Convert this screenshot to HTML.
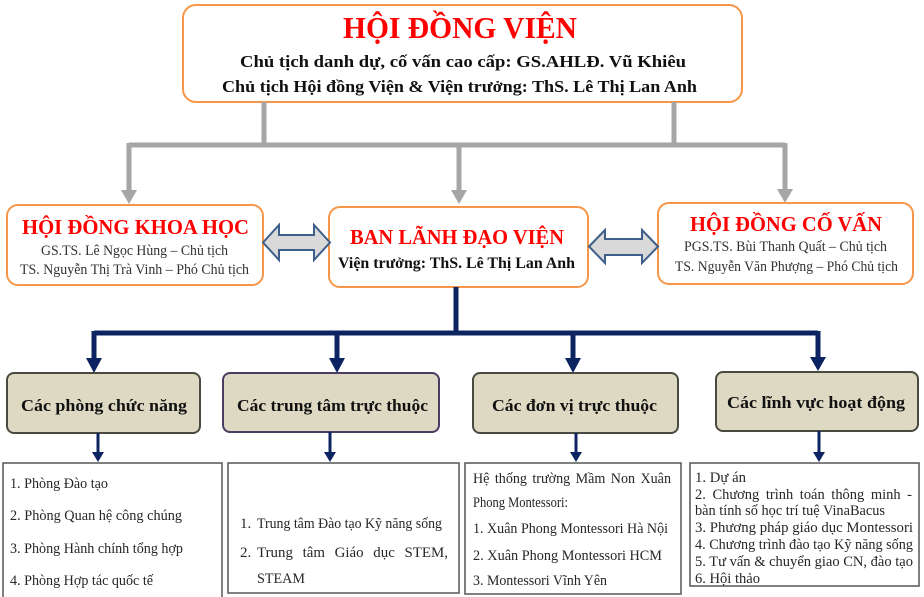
<!DOCTYPE html>
<html><head><meta charset="utf-8"><style>
html,body{margin:0;padding:0;background:#fff;width:924px;height:597px;overflow:hidden}
svg{display:block}
text{font-family:"Liberation Serif","Noto Serif CJK SC",serif}
.b{font-weight:bold}
</style></head><body>
<svg width="924" height="597" viewBox="0 0 924 597" xmlns="http://www.w3.org/2000/svg">
<!-- Top box -->
<rect x="183" y="5" width="559" height="97" rx="13" fill="#fff" stroke="#f79646" stroke-width="2"/>
<text x="343" y="38" class="b" font-size="31" fill="#ff0000" textLength="234" lengthAdjust="spacingAndGlyphs">HỘI ĐỒNG VIỆN</text>
<text x="240" y="67" class="b" font-size="17" fill="#111" textLength="446" lengthAdjust="spacingAndGlyphs">Chủ tịch  danh dự, cố vấn cao cấp: GS.AHLĐ.  Vũ Khiêu</text>
<text x="222" y="92" class="b" font-size="17" fill="#111" textLength="475" lengthAdjust="spacingAndGlyphs">Chủ tịch  Hội đồng Viện &amp; Viện trưởng: ThS.  Lê Thị  Lan Anh</text>

<!-- Gray connectors -->
<g stroke="#a6a6a6" stroke-width="5" fill="none">
<path d="M264 102 V145"/>
<path d="M674 102 V145"/>
<path d="M129 145 H785"/>
<path d="M129 143 V192"/>
<path d="M459 145 V192"/>
<path d="M785 143 V192"/>
</g>
<g fill="#a6a6a6">
<polygon points="121,190 137,190 129,204"/>
<polygon points="451,190 467,190 459,204"/>
<polygon points="777,189 793,189 785,203"/>
</g>

<!-- Second level boxes -->
<rect x="7" y="205" width="256" height="80" rx="11" fill="#fff" stroke="#f79646" stroke-width="2"/>
<text x="22" y="234" class="b" font-size="21" fill="#ff0000" textLength="227" lengthAdjust="spacingAndGlyphs">HỘI ĐỒNG KHOA HỌC</text>
<text x="41" y="255" font-size="15" fill="#333" textLength="187" lengthAdjust="spacingAndGlyphs">GS.TS. Lê Ngọc Hùng – Chủ tịch</text>
<text x="20" y="274" font-size="15" fill="#333" textLength="229" lengthAdjust="spacingAndGlyphs">TS. Nguyễn Thị Trà Vinh – Phó Chủ tịch</text>

<rect x="329" y="207" width="259" height="80" rx="11" fill="#fff" stroke="#f79646" stroke-width="2"/>
<text x="350" y="244" class="b" font-size="21" fill="#ff0000" textLength="214" lengthAdjust="spacingAndGlyphs">BAN LÃNH ĐẠO VIỆN</text>
<text x="338" y="268" class="b" font-size="16" fill="#111" textLength="237" lengthAdjust="spacingAndGlyphs">Viện trưởng: ThS. Lê Thị Lan Anh</text>

<rect x="658" y="203" width="255" height="81" rx="11" fill="#fff" stroke="#f79646" stroke-width="2"/>
<text x="690" y="231" class="b" font-size="21" fill="#ff0000" textLength="192" lengthAdjust="spacingAndGlyphs">HỘI ĐỒNG CỐ VẤN</text>
<text x="684" y="251" font-size="15" fill="#333" textLength="203" lengthAdjust="spacingAndGlyphs">PGS.TS. Bùi Thanh Quất – Chủ tịch</text>
<text x="675" y="271" font-size="15" fill="#333" textLength="223" lengthAdjust="spacingAndGlyphs">TS. Nguyễn Văn Phượng – Phó Chủ tịch</text>

<!-- Double arrows -->
<polygon points="263,242.5 279,225 279,235 314,235 314,225 330,242.5 314,260 314,250 279,250 279,260" fill="#d9d9d9" stroke="#3e5f8a" stroke-width="2" stroke-linejoin="miter"/>
<polygon points="589,246.5 605,230 605,239 642,239 642,230 658,246.5 642,263 642,255 605,255 605,263" fill="#d9d9d9" stroke="#3e5f8a" stroke-width="2" stroke-linejoin="miter"/>

<!-- Navy connectors -->
<g stroke="#0c2461" stroke-width="5" fill="none">
<path d="M456 287 V333"/>
<path d="M94 333 H818"/>
<path d="M94 331 V360"/>
<path d="M337 333 V360"/>
<path d="M573 333 V360"/>
<path d="M818 331 V360"/>
</g>
<g fill="#0c2461">
<polygon points="86,358 102,358 94,373"/>
<polygon points="329,358 345,358 337,373"/>
<polygon points="565,358 581,358 573,373"/>
<polygon points="810,357 826,357 818,371"/>
</g>

<!-- Category boxes -->
<rect x="7" y="373" width="193" height="60" rx="7" fill="#ddd9c3" stroke="#4a4a40" stroke-width="2"/>
<text x="21" y="411" class="b" font-size="17" fill="#111" textLength="166" lengthAdjust="spacingAndGlyphs">Các phòng chức năng</text>
<rect x="223" y="373" width="216" height="59" rx="7" fill="#ddd9c3" stroke="#4a3c62" stroke-width="2"/>
<text x="237" y="411" class="b" font-size="17" fill="#111" textLength="191" lengthAdjust="spacingAndGlyphs">Các trung tâm trực thuộc</text>
<rect x="473" y="373" width="205" height="60" rx="7" fill="#ddd9c3" stroke="#4a4a40" stroke-width="2"/>
<text x="492" y="411" class="b" font-size="17" fill="#111" textLength="165" lengthAdjust="spacingAndGlyphs">Các đơn vị trực thuộc</text>
<rect x="716" y="372" width="202" height="59" rx="7" fill="#ddd9c3" stroke="#4a4a40" stroke-width="2"/>
<text x="727" y="408" class="b" font-size="17" fill="#111" textLength="178" lengthAdjust="spacingAndGlyphs">Các lĩnh vực hoạt động</text>

<!-- Small arrows -->
<g stroke="#0c2461" stroke-width="3" fill="none">
<path d="M98 433 V454"/>
<path d="M330 432 V454"/>
<path d="M576 433 V454"/>
<path d="M819 431 V454"/>
</g>
<g fill="#0c2461">
<polygon points="92,452 104,452 98,462"/>
<polygon points="324,452 336,452 330,462"/>
<polygon points="570,452 582,452 576,462"/>
<polygon points="813,452 825,452 819,462"/>
</g>

<!-- List boxes -->
<g fill="#fff" stroke="#555" stroke-width="1.5">
<rect x="3" y="463" width="219" height="140"/>
<rect x="228" y="463" width="231" height="130"/>
<rect x="465" y="463" width="216" height="131"/>
<rect x="690" y="463" width="229" height="123"/>
</g>
<g font-size="15" fill="#262626">
<text x="10" y="488" textLength="98" lengthAdjust="spacingAndGlyphs">1. Phòng Đào tạo</text>
<text x="10" y="520" textLength="172" lengthAdjust="spacingAndGlyphs">2. Phòng Quan hệ công chúng</text>
<text x="10" y="553" textLength="173" lengthAdjust="spacingAndGlyphs">3. Phòng Hành chính tổng hợp</text>
<text x="10" y="585" textLength="143" lengthAdjust="spacingAndGlyphs">4. Phòng Hợp tác quốc tế</text>

<text x="240" y="528">1.</text>
<text x="257" y="528" textLength="185" lengthAdjust="spacingAndGlyphs">Trung tâm Đào tạo Kỹ năng sống</text>
<text x="240" y="557">2.</text>
<text x="257" y="557" word-spacing="6" textLength="191" lengthAdjust="spacingAndGlyphs">Trung tâm Giáo dục STEM,</text>
<text x="257" y="583" textLength="48" lengthAdjust="spacingAndGlyphs">STEAM</text>

<text x="473" y="483" word-spacing="2" textLength="198" lengthAdjust="spacingAndGlyphs">Hệ thống trường Mầm Non Xuân</text>
<text x="473" y="507" textLength="95" lengthAdjust="spacingAndGlyphs">Phong Montessori:</text>
<text x="473" y="533" textLength="195" lengthAdjust="spacingAndGlyphs">1. Xuân Phong Montessori Hà Nội</text>
<text x="473" y="560" textLength="189" lengthAdjust="spacingAndGlyphs">2. Xuân Phong Montessori HCM</text>
<text x="473" y="585" textLength="134" lengthAdjust="spacingAndGlyphs">3. Montessori Vĩnh Yên</text>
</g>
<g font-size="14.5" fill="#262626">
<text x="695" y="482" textLength="51" lengthAdjust="spacingAndGlyphs">1. Dự án</text>
<text x="695" y="499" word-spacing="3" textLength="217" lengthAdjust="spacingAndGlyphs">2. Chương trình toán thông minh -</text>
<text x="695" y="515" textLength="190" lengthAdjust="spacingAndGlyphs">bàn tính số học trí tuệ VinaBacus</text>
<text x="695" y="532" textLength="218" lengthAdjust="spacingAndGlyphs">3. Phương pháp giáo dục Montessori</text>
<text x="695" y="549" textLength="218" lengthAdjust="spacingAndGlyphs">4. Chương trình đào tạo Kỹ năng sống</text>
<text x="695" y="566" textLength="218" lengthAdjust="spacingAndGlyphs">5. Tư vấn &amp; chuyển giao CN, đào tạo</text>
<text x="695" y="583" textLength="65" lengthAdjust="spacingAndGlyphs">6. Hội thảo</text>
</g>
</svg>
</body></html>
